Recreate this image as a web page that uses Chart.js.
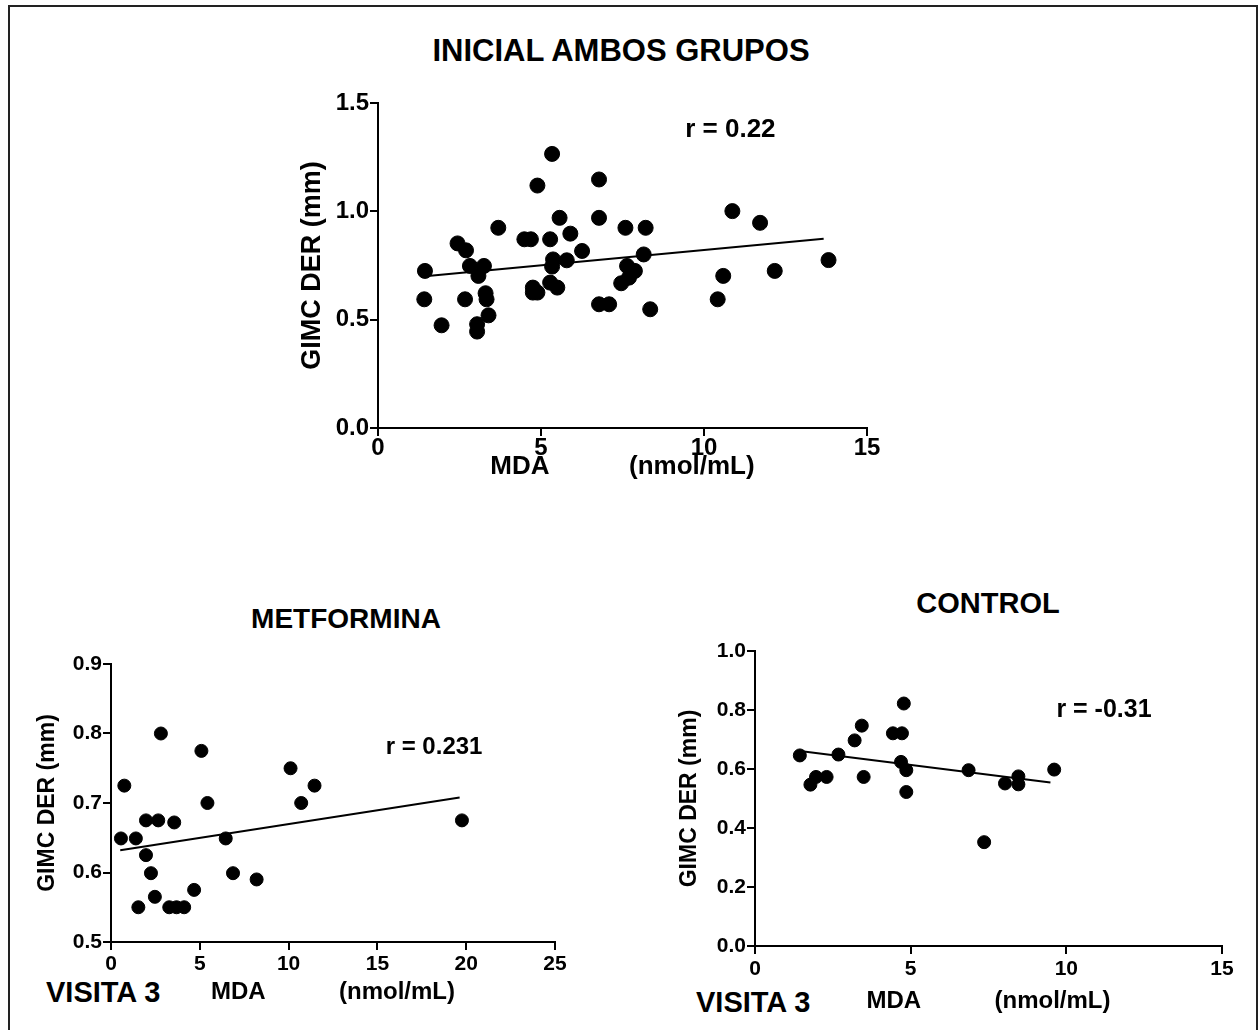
<!DOCTYPE html>
<html>
<head>
<meta charset="utf-8">
<script src="https://cdn.jsdelivr.net/npm/chart.js@4/dist/chart.umd.min.js"></script>
<style>
  html, body { margin: 0; padding: 0; background: #fff; }
  body { width: 1259px; height: 1030px; position: relative; overflow: hidden;
         font-family: 'Liberation Sans', Arial, sans-serif; color: #000; }
  .frame { position: absolute; left: 8px; top: 5px; width: 1246px; height: 1100px;
           border: 2px solid #222; box-sizing: content-box; }
  canvas { position: absolute; }
  .txt { position: absolute; font-weight: bold; line-height: 1; white-space: nowrap; color: #000; }
</style>
</head>
<body>
<div class="frame"></div>

<div class="txt" style="left:421px; width:400px; text-align:center; top:35px; font-size:31px;">INICIAL AMBOS GRUPOS</div>
<div class="txt" style="left:196px; width:300px; text-align:center; top:605px; font-size:28px;">METFORMINA</div>
<div class="txt" style="left:838px; width:300px; text-align:center; top:589px; font-size:29px;">CONTROL</div>
<div class="txt" style="left:46px; top:978px; font-size:29px;">VISITA 3</div>
<div class="txt" style="left:696px; top:988px; font-size:29px;">VISITA 3</div>

<canvas id="cTop" width="591" height="399" style="left:296px; top:83px; width:591px; height:399px;"></canvas>
<canvas id="cMet" width="541" height="363" style="left:34px; top:644px; width:541px; height:363px;"></canvas>
<canvas id="cCtl" width="566" height="385" style="left:676px; top:631px; width:566px; height:385px;"></canvas>

<script>
// ---------- DATA ----------
// Top: INICIAL AMBOS GRUPOS
const topX = [1.44,1.42,1.95,2.44,2.70,2.67,2.82,3.08,3.25,3.30,3.33,3.04,3.04,3.39,3.69,4.49,4.69,4.89,4.75,4.75,4.89,5.34,5.28,5.37,5.34,5.28,5.50,5.57,5.79,5.90,6.26,6.78,6.78,6.78,7.09,7.59,7.64,7.88,7.70,7.46,8.21,8.15,8.35,10.42,10.59,10.87,11.72,12.17,13.82];
const topY = [0.725,0.594,0.474,0.852,0.820,0.594,0.748,0.702,0.748,0.622,0.594,0.479,0.445,0.520,0.924,0.871,0.871,1.119,0.648,0.625,0.625,1.265,0.871,0.778,0.745,0.671,0.648,0.970,0.774,0.897,0.817,1.147,0.970,0.571,0.571,0.924,0.748,0.725,0.694,0.668,0.924,0.801,0.548,0.594,0.702,1.001,0.947,0.725,0.775];
const topFitX = [1.44, 13.67];
const topFitY = [0.700, 0.874];
const topR = "r = 0.22";
const topRPos = [10.81, 1.375];
const topXTicks = [0, 5, 10, 15];
const topYTicks = [0.0, 0.5, 1.0, 1.5];

// Bottom left: METFORMINA
const metX = [0.56,0.75,1.40,1.54,1.97,1.97,2.25,2.47,2.66,2.81,3.56,3.28,3.69,4.12,4.68,5.09,5.43,6.46,6.87,8.20,10.11,10.71,11.46,19.76];
const metY = [0.649,0.725,0.649,0.550,0.675,0.625,0.599,0.565,0.675,0.800,0.672,0.550,0.550,0.550,0.575,0.775,0.700,0.649,0.599,0.590,0.750,0.700,0.725,0.675];
const metFitX = [0.52, 19.63];
const metFitY = [0.632, 0.708];
const metR = "r = 0.231";
const metRPos = [18.19, 0.780];
const metXTicks = [0, 5, 10, 15, 20, 25];
const metYTicks = [0.5, 0.6, 0.7, 0.8, 0.9];

// Bottom right: CONTROL
const ctlX = [1.44,1.78,1.96,2.30,2.68,3.20,3.43,3.49,4.43,4.72,4.78,4.69,4.86,4.86,6.86,7.36,8.03,8.46,8.46,9.61];
const ctlY = [0.646,0.547,0.573,0.573,0.649,0.697,0.747,0.573,0.721,0.721,0.822,0.624,0.596,0.522,0.596,0.352,0.551,0.575,0.548,0.598];
const ctlFitX = [1.44, 9.49];
const ctlFitY = [0.661, 0.554];
const ctlR = "r = -0.31";
const ctlRPos = [11.21, 0.80];
const ctlXTicks = [0, 5, 10, 15];
const ctlYTicks = [0.0, 0.2, 0.4, 0.6, 0.8, 1.0];

const yTitle = "GIMC DER (mm)";
const xTitle = "MDA           (nmol/mL)";

// ---------- CHART HELPERS ----------
const FONT = "'Liberation Sans', Arial, sans-serif";
Chart.defaults.font.family = FONT;
Chart.defaults.color = '#000';

const toPts = (xs, ys) => xs.map((x, i) => ({ x: x, y: ys[i] }));

const rLabelPlugin = {
  id: 'rLabel',
  afterDatasetsDraw(chart) {
    const o = chart.options.plugins.rLabel;
    if (!o) return;
    const ctx = chart.ctx;
    const px = chart.scales.x.getPixelForValue(o.pos[0]);
    const py = chart.scales.y.getPixelForValue(o.pos[1]);
    ctx.save();
    ctx.font = 'bold ' + o.size + 'px ' + FONT;
    ctx.fillStyle = '#000';
    ctx.textAlign = 'center';
    ctx.textBaseline = 'middle';
    ctx.fillText(o.text, px, py);
    ctx.restore();
  }
};

function makeChart(id, g) {
  const xt = g.xTicks, yt = g.yTicks;
  return new Chart(document.getElementById(id), {
    type: 'scatter',
    data: {
      datasets: [
        {
          data: toPts(g.xs, g.ys),
          backgroundColor: '#000',
          borderColor: '#000',
          pointRadius: g.r,
          pointHoverRadius: g.r,
          showLine: false
        },
        {
          data: toPts(g.fitX, g.fitY),
          showLine: true,
          borderColor: '#000',
          borderWidth: 2,
          pointRadius: 0,
          fill: false
        }
      ]
    },
    options: {
      responsive: false,
      animation: false,
      devicePixelRatio: 1,
      layout: { padding: { top: 20, right: 20, bottom: 0, left: 0 } },
      plugins: {
        legend: { display: false },
        tooltip: { enabled: false },
        title: { display: false },
        rLabel: { text: g.rText, pos: g.rPos, size: g.rSize }
      },
      scales: {
        x: {
          type: 'linear',
          min: xt[0], max: xt[xt.length - 1],
          afterBuildTicks: (s) => { s.ticks = xt.map(v => ({ value: v })); },
          afterFit: (s) => { s.height = g.hx; },
          ticks: {
            font: { size: g.tickSize, weight: 'bold' },
            color: '#000',
            padding: g.xPad,
            maxRotation: 0,
            callback: (v) => String(v)
          },
          grid: { display: true, drawOnChartArea: false, drawTicks: true, tickLength: 8, color: '#000', lineWidth: 2 },
          border: { display: true, color: '#000', width: 2 },
          title: { display: true, text: xTitle, font: { size: g.xTitleSize, weight: 'bold' }, color: '#000', padding: 0 }
        },
        y: {
          type: 'linear',
          min: yt[0], max: yt[yt.length - 1],
          afterBuildTicks: (s) => { s.ticks = yt.map(v => ({ value: v })); },
          afterFit: (s) => { s.width = g.wy; },
          ticks: {
            font: { size: g.tickSize, weight: 'bold' },
            color: '#000',
            padding: 1,
            callback: (v) => Number(v).toFixed(1)
          },
          grid: { display: true, drawOnChartArea: false, drawTicks: true, tickLength: 8, color: '#000', lineWidth: 2 },
          border: { display: true, color: '#000', width: 2 },
          title: { display: true, text: yTitle, font: { size: g.yTitleSize, weight: 'bold' }, color: '#000', padding: 0 }
        }
      }
    },
    plugins: [rLabelPlugin]
  });
}

makeChart('cTop', {
  xs: topX, ys: topY, fitX: topFitX, fitY: topFitY,
  xTicks: topXTicks, yTicks: topYTicks,
  rText: topR, rPos: topRPos, rSize: 26,
  r: 7.5, tickSize: 24, xTitleSize: 26, yTitleSize: 27, xPad: -2,
  wy: 82, hx: 54
});

makeChart('cMet', {
  xs: metX, ys: metY, fitX: metFitX, fitY: metFitY,
  xTicks: metXTicks, yTicks: metYTicks,
  rText: metR, rPos: metRPos, rSize: 24,
  r: 6.5, tickSize: 21, xTitleSize: 24, yTitleSize: 23, xPad: 2,
  wy: 77, hx: 65
});

makeChart('cCtl', {
  xs: ctlX, ys: ctlY, fitX: ctlFitX, fitY: ctlFitY,
  xTicks: ctlXTicks, yTicks: ctlYTicks,
  rText: ctlR, rPos: ctlRPos, rSize: 25,
  r: 6.5, tickSize: 21, xTitleSize: 24, yTitleSize: 23, xPad: 3,
  wy: 79, hx: 70
});
</script>
</body>
</html>
